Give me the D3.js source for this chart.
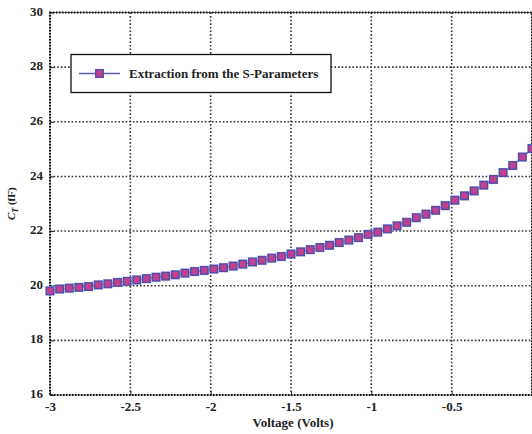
<!DOCTYPE html>
<html>
<head>
<meta charset="utf-8">
<script src="https://cdn.jsdelivr.net/npm/d3@7/dist/d3.min.js"></script>
<style>
  html, body { margin: 0; padding: 0; background: #fff; }
  svg { display: block; }
  .tick-label { font-family: "Liberation Serif", "DejaVu Serif", serif; font-weight: bold; font-size: 13px; fill: #222; }
</style>
</head>
<body>
<svg id="chart" width="532" height="434"></svg>
<script>
// Junction capacitance vs. reverse bias, extracted from S-parameters
const voltage = d3.range(51).map(i => +(-3 + 0.06 * i).toFixed(2));
const capacitance = [
  19.81, 19.88, 19.91, 19.94, 19.97, 20.03, 20.07, 20.12, 20.16, 20.21,
  20.26, 20.31, 20.35, 20.40, 20.46, 20.52, 20.56, 20.61, 20.66, 20.72,
  20.79, 20.87, 20.93, 21.01, 21.07, 21.16, 21.24, 21.32, 21.40, 21.48,
  21.58, 21.67, 21.76, 21.88, 21.96, 22.08, 22.19, 22.32, 22.49, 22.62,
  22.76, 22.93, 23.13, 23.29, 23.47, 23.68, 23.89, 24.14, 24.40, 24.71,
  25.02
];
const xTicks = [-3, -2.5, -2, -1.5, -1, -0.5, 0];
const xTickLabels = ["-3", "-2.5", "-2", "-1.5", "-1", "-0.5", ""];
const yTicks = [16, 18, 20, 22, 24, 26, 28, 30];
const seriesName = "Extraction from the S-Parameters";

const svg = d3.select("#chart");
const pLeft = 50, pRight = 532, pTop = 12.5, pBottom = 395;

const x = d3.scaleLinear().domain([-3, 0]).range([pLeft, pRight]);
const y = d3.scaleLinear().domain([16, 30]).range([pBottom, pTop]);

// dotted grid
const grid = svg.append("g");
grid.selectAll(".gx").data(xTicks.slice(1, -1)).join("line")
  .attr("x1", d => x(d)).attr("x2", d => x(d))
  .attr("y1", pTop).attr("y2", pBottom)
  .attr("stroke", "#333").attr("stroke-width", 1.6).attr("stroke-dasharray", "1.6,2");
grid.selectAll(".gy").data(yTicks.slice(1, -1)).join("line")
  .attr("x1", pLeft).attr("x2", pRight)
  .attr("y1", d => y(d)).attr("y2", d => y(d))
  .attr("stroke", "#333").attr("stroke-width", 1.6).attr("stroke-dasharray", "1.6,2");

// frame
const frame = svg.append("g");
frame.append("rect").attr("x", pLeft).attr("y", pTop)
  .attr("width", pRight - pLeft).attr("height", pBottom - pTop)
  .attr("fill", "none").attr("stroke", "#666").attr("stroke-width", 1);
frame.append("rect").attr("x", pLeft).attr("y", pTop)
  .attr("width", pRight - pLeft).attr("height", pBottom - pTop)
  .attr("fill", "none").attr("stroke", "#111").attr("stroke-width", 2)
  .attr("stroke-dasharray", "1.5,1.5");

// axes with outward labels
const xAxis = d3.axisBottom(x).tickValues(xTicks)
  .tickFormat((d, i) => xTickLabels[i]).tickSize(4).tickPadding(6);
const gx = svg.append("g").attr("transform", `translate(0,${pBottom})`).call(xAxis);
gx.select(".domain").remove();
gx.selectAll(".tick line").attr("y2", -4).attr("stroke", "#222");
gx.selectAll(".tick text").attr("class", "tick-label").attr("dy", "0.9em").attr("y", 4);

const yAxis = d3.axisLeft(y).tickValues(yTicks).tickFormat(d3.format("d")).tickSize(4).tickPadding(7);
const gy = svg.append("g").attr("transform", `translate(${pLeft},0)`).call(yAxis);
gy.select(".domain").remove();
gy.selectAll(".tick line").attr("x2", 4).attr("stroke", "#222");
gy.selectAll(".tick text").attr("class", "tick-label").attr("x", -7).attr("dy", "0.2em");

// axis titles
svg.append("text").attr("x", (pLeft + pRight) / 2 + 2).attr("y", 427)
  .attr("text-anchor", "middle")
  .attr("font-family", "Liberation Serif, DejaVu Serif, serif")
  .attr("font-weight", "bold").attr("font-size", 13).attr("fill", "#222")
  .text("Voltage (Volts)");

const yt = svg.append("text")
  .attr("transform", `translate(15,${(pTop + pBottom) / 2}) rotate(-90)`)
  .attr("text-anchor", "middle")
  .attr("font-family", "Liberation Serif, DejaVu Serif, serif")
  .attr("font-weight", "bold").attr("font-size", 11).attr("fill", "#222");
yt.append("tspan").attr("font-style", "italic").text("C");
yt.append("tspan").attr("font-style", "italic").attr("font-size", 8).attr("dy", 3).text("T");
yt.append("tspan").attr("dy", -3).text(" (fF)");

// series
const data = voltage.map((v, i) => ({ v, c: capacitance[i] }));
const lineColor = "#5a5ab8";
const markFill = "#c2418f";
const plot = svg.append("g");
plot.append("path").datum(data)
  .attr("fill", "none").attr("stroke", lineColor).attr("stroke-width", 1.6)
  .attr("d", d3.line().x(d => x(d.v)).y(d => y(d.c)));

const ms = 7.5;
plot.selectAll(".halo").data(data).join("rect")
  .attr("x", d => x(d.v) - ms / 2 - 1).attr("y", d => y(d.c) - ms / 2 - 1)
  .attr("width", ms + 2).attr("height", ms + 2)
  .attr("fill", "#c4c4ec").attr("opacity", 0.7);
plot.selectAll(".mark").data(data).join("rect")
  .attr("x", d => x(d.v) - ms / 2).attr("y", d => y(d.c) - ms / 2)
  .attr("width", ms).attr("height", ms)
  .attr("fill", markFill).attr("stroke", "#4e4eaa").attr("stroke-width", 1.4);

// legend
const lg = svg.append("g");
lg.append("rect").attr("x", 71).attr("y", 54.5).attr("width", 260).attr("height", 38)
  .attr("fill", "#fff").attr("stroke", "#111").attr("stroke-width", 1.3);
lg.append("line").attr("x1", 79).attr("x2", 120).attr("y1", 73.5).attr("y2", 73.5)
  .attr("stroke", lineColor).attr("stroke-width", 1.6);
lg.append("rect").attr("x", 99.5 - ms / 2 - 1).attr("y", 73.5 - ms / 2 - 1)
  .attr("width", ms + 2).attr("height", ms + 2).attr("fill", "#c4c4ec").attr("opacity", 0.7);
lg.append("rect").attr("x", 99.5 - ms / 2).attr("y", 73.5 - ms / 2)
  .attr("width", ms).attr("height", ms)
  .attr("fill", markFill).attr("stroke", "#4e4eaa").attr("stroke-width", 1.4);
lg.append("text").attr("x", 129).attr("y", 78)
  .attr("font-family", "Liberation Serif, DejaVu Serif, serif")
  .attr("font-weight", "bold").attr("font-size", 13).attr("fill", "#222")
  .text(seriesName);
</script>
</body>
</html>
